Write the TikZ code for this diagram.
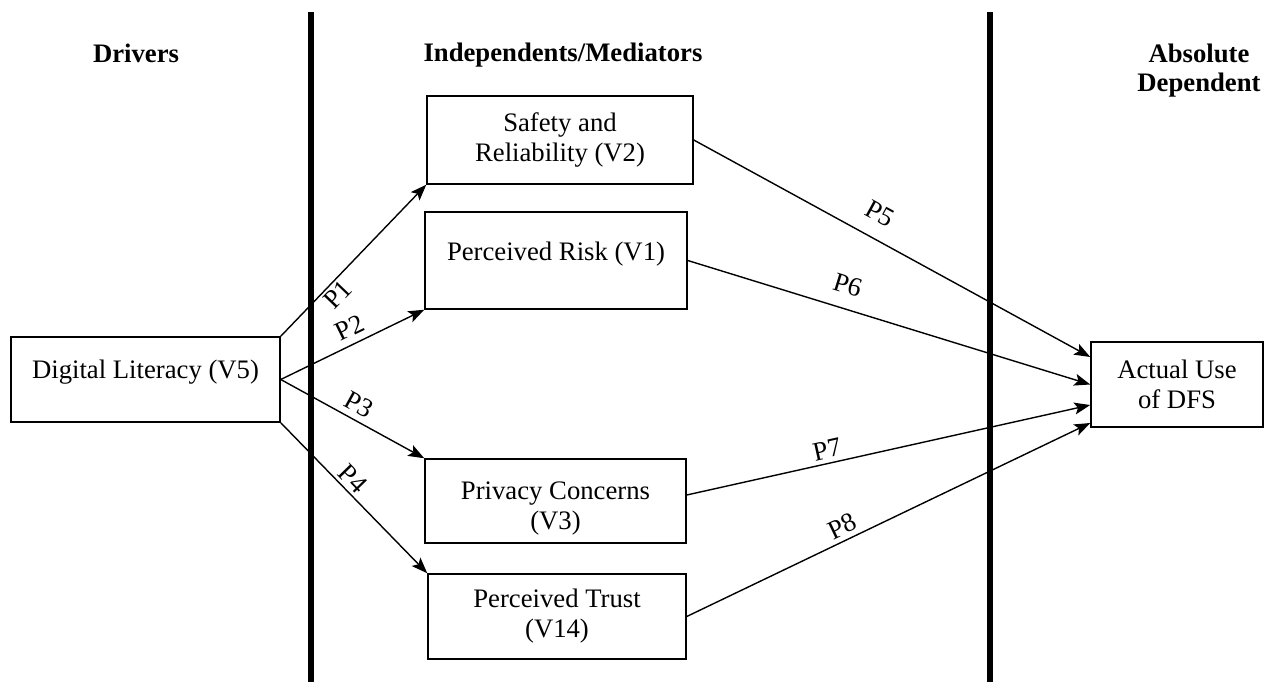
\documentclass[tikz,border=0pt]{standalone}
\usepackage{fontspec}
\setmainfont{Liberation Serif}
\usetikzlibrary{arrows.meta,calc}
\begin{document}
\begin{tikzpicture}[x=1pt,y=-1pt,
  box/.style={draw, line width=1.5pt, inner sep=0pt, align=center, font=\fontsize{26.7pt}{30pt}\selectfont},
  hdr/.style={inner sep=0pt, align=center, font=\fontsize{26.7pt}{29pt}\selectfont\bfseries},
  conn/.style={line width=1.4pt, -{Stealth[length=16pt,width=12pt,inset=3.5pt]}},
  lbl/.style={sloped, inner sep=0pt, font=\fontsize{26.7pt}{30pt}\selectfont},
  bar/.style={line width=5.5pt}]
\useasboundingbox (0,0) rectangle (1264,682);
% separators
\coordinate (b1t) at (311,12);
\coordinate (b1b) at (311,690);
\coordinate (b2t) at (990,12);
\coordinate (b2b) at (990,690);
\draw[bar] (b1t) -- (b1b);
\draw[bar] (b2t) -- (b2b);
% headers
\node[hdr, anchor=base] (h1) at (136,63) {Drivers};
\node[hdr, anchor=base] (h2) at (563,62) {Independents/Mediators};
\node[hdr, anchor=north] (h3) at (1199,43.5) {Absolute\\Dependent};
% boxes
\node[box, minimum width=269pt, minimum height=85pt, text height=18pt, text depth=21pt] (dl) at (145.5,379.5) {Digital Literacy (V5)};
\node[box, minimum width=266pt, minimum height=88pt] (sr) at (560,140) {Safety and\\Reliability (V2)};
\node[box, minimum width=262pt, minimum height=97pt, text height=18pt, text depth=19pt] (pr) at (556,260.5) {Perceived Risk (V1)};
\node[box, minimum width=261pt, minimum height=84pt] (pc) at (555.5,501) {\rule{0pt}{32pt}Privacy Concerns\\(V3)};
\node[box, minimum width=258pt, minimum height=85pt] (pt) at (557,616.5) {Perceived Trust\\(V14)};
\node[box, minimum width=172pt, minimum height=85pt] (au) at (1177,384.5) {Actual Use\\of DFS};
% connectors
\draw[conn] (dl.north east) -- (sr.south west) node[lbl, pos=0.33, below=2.5pt] {P1};
\draw[conn] (dl.east) -- (pr.south west) node[lbl, pos=0.53, above=7pt] {P2};
\draw[conn] (dl.east) -- (pc.north west) node[lbl, pos=0.49, above=6pt] {P3};
\draw[conn] (dl.south east) -- (pt.north west) node[lbl, pos=0.43, above=3.5pt] {P4};
\draw[conn] (sr.east) -- ([yshift=27.5pt]au.west) node[lbl, pos=0.44, above=15.5pt] {P5};
\draw[conn] (pr.east) -- (au.west) node[lbl, pos=0.38, above=14pt] {P6};
\draw[conn] ([yshift=6pt]pc.east) -- ([yshift=-20.5pt]au.west) node[lbl, pos=0.355, above=4.5pt] {P7};
\draw[conn] (pt.east) -- ([yshift=-38.5pt]au.west) node[lbl, pos=0.40, above=4.5pt] {P8};
\end{tikzpicture}
\end{document}
